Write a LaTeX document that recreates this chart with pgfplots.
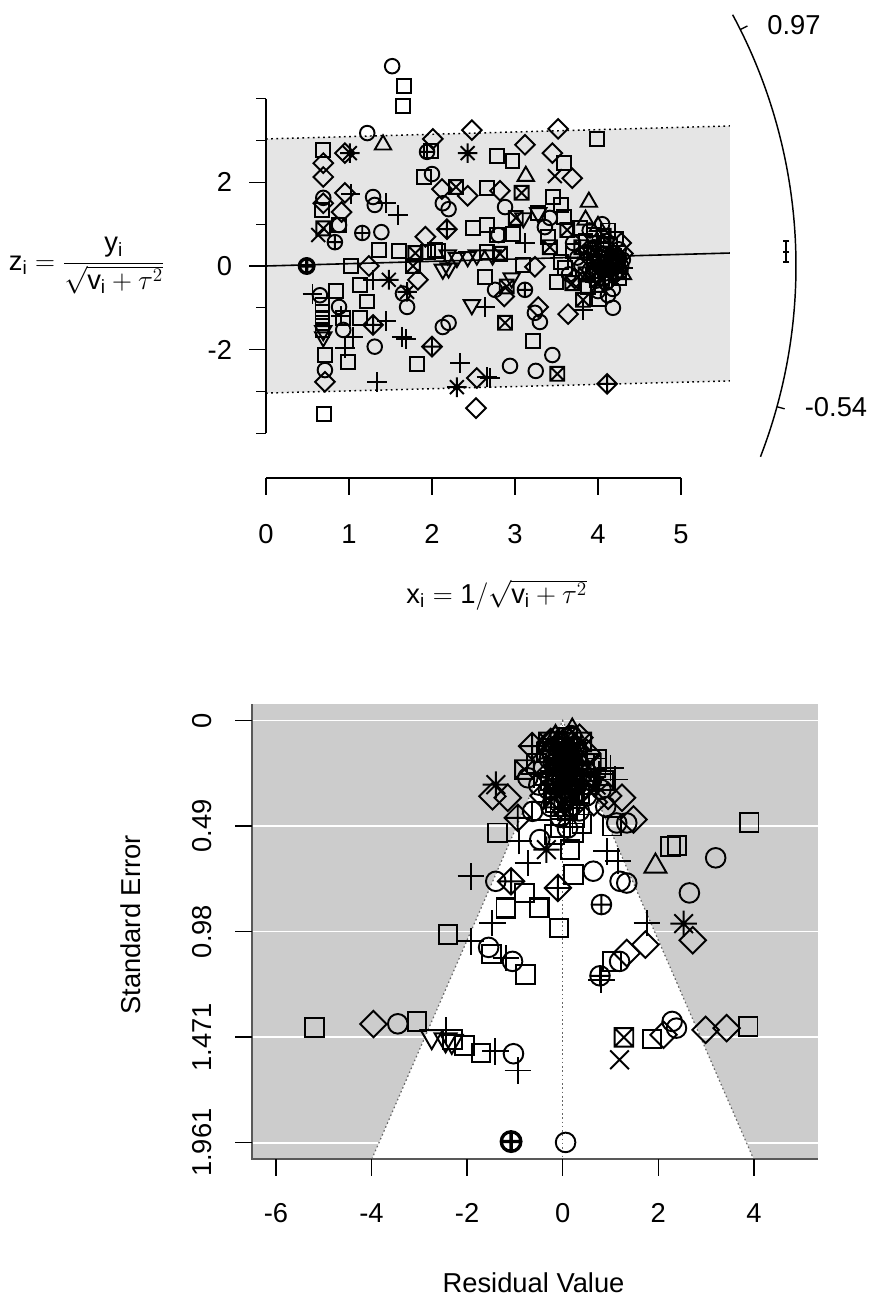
\documentclass[border=0pt]{standalone}
\usepackage{pgfplots}
\pgfplotsset{compat=1.18}
\usepackage{fontspec}
\setmainfont{Liberation Sans}

\pgfdeclareplotmark{circ}{\pgfpathcircle{\pgfpointorigin}{1.05\pgfplotmarksize}\pgfusepathqstroke}
\pgfdeclareplotmark{sq}{\pgfpathrectangle{\pgfqpoint{-\pgfplotmarksize}{-\pgfplotmarksize}}{\pgfqpoint{2\pgfplotmarksize}{2\pgfplotmarksize}}\pgfusepathqstroke}
\pgfdeclareplotmark{dia}{%
 \pgfpathmoveto{\pgfqpoint{0pt}{1.4142\pgfplotmarksize}}\pgfpathlineto{\pgfqpoint{1.4142\pgfplotmarksize}{0pt}}%
 \pgfpathlineto{\pgfqpoint{0pt}{-1.4142\pgfplotmarksize}}\pgfpathlineto{\pgfqpoint{-1.4142\pgfplotmarksize}{0pt}}\pgfpathclose\pgfusepathqstroke}
\pgfdeclareplotmark{dpl}{%
 \pgfpathmoveto{\pgfqpoint{0pt}{1.4142\pgfplotmarksize}}\pgfpathlineto{\pgfqpoint{1.4142\pgfplotmarksize}{0pt}}%
 \pgfpathlineto{\pgfqpoint{0pt}{-1.4142\pgfplotmarksize}}\pgfpathlineto{\pgfqpoint{-1.4142\pgfplotmarksize}{0pt}}\pgfpathclose
 \pgfpathmoveto{\pgfqpoint{0pt}{1.4142\pgfplotmarksize}}\pgfpathlineto{\pgfqpoint{0pt}{-1.4142\pgfplotmarksize}}%
 \pgfpathmoveto{\pgfqpoint{-1.4142\pgfplotmarksize}{0pt}}\pgfpathlineto{\pgfqpoint{1.4142\pgfplotmarksize}{0pt}}\pgfusepathqstroke}
\pgfdeclareplotmark{tup}{\pgfpathmoveto{\pgfqpoint{0pt}{1.357\pgfplotmarksize}}\pgfpathlineto{\pgfqpoint{1.175\pgfplotmarksize}{-0.678\pgfplotmarksize}}\pgfpathlineto{\pgfqpoint{-1.175\pgfplotmarksize}{-0.678\pgfplotmarksize}}\pgfpathclose\pgfusepathqstroke}
\pgfdeclareplotmark{tdn}{\pgfpathmoveto{\pgfqpoint{0pt}{-1.357\pgfplotmarksize}}\pgfpathlineto{\pgfqpoint{1.175\pgfplotmarksize}{0.678\pgfplotmarksize}}\pgfpathlineto{\pgfqpoint{-1.175\pgfplotmarksize}{0.678\pgfplotmarksize}}\pgfpathclose\pgfusepathqstroke}
\pgfdeclareplotmark{pl}{\pgfpathmoveto{\pgfqpoint{-1.4142\pgfplotmarksize}{0pt}}\pgfpathlineto{\pgfqpoint{1.4142\pgfplotmarksize}{0pt}}\pgfpathmoveto{\pgfqpoint{0pt}{-1.4142\pgfplotmarksize}}\pgfpathlineto{\pgfqpoint{0pt}{1.4142\pgfplotmarksize}}\pgfusepathqstroke}
\pgfdeclareplotmark{xx}{\pgfpathmoveto{\pgfqpoint{-\pgfplotmarksize}{-\pgfplotmarksize}}\pgfpathlineto{\pgfqpoint{\pgfplotmarksize}{\pgfplotmarksize}}\pgfpathmoveto{\pgfqpoint{-\pgfplotmarksize}{\pgfplotmarksize}}\pgfpathlineto{\pgfqpoint{\pgfplotmarksize}{-\pgfplotmarksize}}\pgfusepathqstroke}
\pgfdeclareplotmark{st}{\pgfpathmoveto{\pgfqpoint{-1.4142\pgfplotmarksize}{0pt}}\pgfpathlineto{\pgfqpoint{1.4142\pgfplotmarksize}{0pt}}\pgfpathmoveto{\pgfqpoint{0pt}{-1.4142\pgfplotmarksize}}\pgfpathlineto{\pgfqpoint{0pt}{1.4142\pgfplotmarksize}}%
 \pgfpathmoveto{\pgfqpoint{-\pgfplotmarksize}{-\pgfplotmarksize}}\pgfpathlineto{\pgfqpoint{\pgfplotmarksize}{\pgfplotmarksize}}\pgfpathmoveto{\pgfqpoint{-\pgfplotmarksize}{\pgfplotmarksize}}\pgfpathlineto{\pgfqpoint{\pgfplotmarksize}{-\pgfplotmarksize}}\pgfusepathqstroke}
\pgfdeclareplotmark{sqx}{\pgfpathrectangle{\pgfqpoint{-\pgfplotmarksize}{-\pgfplotmarksize}}{\pgfqpoint{2\pgfplotmarksize}{2\pgfplotmarksize}}%
 \pgfpathmoveto{\pgfqpoint{-\pgfplotmarksize}{-\pgfplotmarksize}}\pgfpathlineto{\pgfqpoint{\pgfplotmarksize}{\pgfplotmarksize}}\pgfpathmoveto{\pgfqpoint{-\pgfplotmarksize}{\pgfplotmarksize}}\pgfpathlineto{\pgfqpoint{\pgfplotmarksize}{-\pgfplotmarksize}}\pgfusepathqstroke}
\pgfdeclareplotmark{opl}{\pgfpathcircle{\pgfpointorigin}{1.05\pgfplotmarksize}%
 \pgfpathmoveto{\pgfqpoint{-1.05\pgfplotmarksize}{0pt}}\pgfpathlineto{\pgfqpoint{1.05\pgfplotmarksize}{0pt}}\pgfpathmoveto{\pgfqpoint{0pt}{-1.05\pgfplotmarksize}}\pgfpathlineto{\pgfqpoint{0pt}{1.05\pgfplotmarksize}}\pgfusepathqstroke}

\newcommand\tlf{\fontsize{20.5}{24}\selectfont}
\pgfplotsset{pts/.style={only marks, black, line width=1.45pt, mark options={solid}}}

\begin{document}
\tlf
\begin{tikzpicture}
\path[use as bounding box] (0,0) rectangle (660.75pt,979.5pt);

% ================= TOP: radial plot =================
\begin{axis}[at={(0pt,514.5pt)}, anchor=south west, scale only axis,
  width=660.75pt, height=465pt, xmin=-3.205, xmax=7.41, ymin=-8.469, ymax=6.364,
  hide axis, clip=false, mark size=5.2pt]
\addplot[fill=black!10, draw=none] coordinates {(0,3.04)(5.59,3.35)(5.59,-2.75)(0,-3.04)} -- cycle;
\addplot[black, line width=1.1pt, dash pattern=on 1.3pt off 2.6pt] coordinates {(0,3.04)(5.59,3.35)};
\addplot[black, line width=1.1pt, dash pattern=on 1.3pt off 2.6pt] coordinates {(0,-3.04)(5.59,-2.75)};
\addplot[black, line width=1.2pt] coordinates {(0,0)(5.59,0.31)};

\addplot[pts, mark=circ] coordinates {(1.52,4.78)(1.22,3.18)(0.69,1.63)(1.29,1.65)(1.31,1.46)(0.88,0.98)(1.39,0.81)(0.65,-0.70)(1.65,-0.66)(1.70,-0.98)(0.88,-0.98)(0.93,-1.53)(1.31,-1.93)(0.71,-2.49)(2.00,2.20)(2.13,1.50)(2.20,1.36)(2.76,-0.57)(2.13,-1.46)(2.20,-1.36)(2.88,1.41)(3.42,1.15)(3.36,0.93)(2.80,0.74)(3.24,-1.12)(3.30,-1.34)(3.45,-2.13)(2.94,-2.39)(3.25,-2.51)(4.18,-1.00)
(3.95,0.45)(4.05,0.30)(4.15,0.10)(4.20,-0.20)(4.10,-0.40)(3.90,-0.10)(4.25,0.40)(4.00,-0.60)(4.12,-0.70)(3.75,0.20)(3.80,0.00)(3.65,-0.20)(4.28,0.00)(4.05,1.00)(3.90,0.85)(4.18,-0.55)(3.70,0.55)(4.10,0.60)(4.30,0.15)(3.98,-0.35)
(4.02,0.12)(4.12,0.22)(4.22,0.08)(3.97,-0.02)(4.08,-0.18)(4.27,-0.12)(3.86,0.33)};
\addplot[pts, mark=sq] coordinates {(1.66,4.30)(1.65,3.83)(0.69,2.78)(0.67,1.34)(0.88,0.98)(1.36,0.38)(1.60,0.36)(2.04,0.38)(1.02,0.00)(1.13,-0.45)(0.84,-0.60)(1.22,-0.85)(0.68,-0.93)(0.68,-1.10)(0.68,-1.24)(0.68,-1.36)(0.68,-1.53)(0.93,-1.24)(1.13,-1.24)(0.71,-2.13)(0.99,-2.30)(1.82,-2.35)(0.70,-3.54)(1.99,2.76)(1.90,2.13)(2.49,0.90)(2.64,-0.26)(3.99,3.04)(2.78,2.63)(2.97,2.51)(3.59,2.46)(2.66,1.87)(3.46,1.65)(3.55,1.46)(3.28,1.27)(3.59,1.17)(2.66,0.98)(2.78,0.74)(2.98,0.77)(3.40,0.70)(2.66,0.33)(3.10,0.02)(3.50,-0.38)(4.01,-0.80)(3.22,-1.80)(2.07,0.36)(1.95,0.33)
(3.85,0.60)(4.00,0.20)(4.10,-0.10)(4.20,0.25)(3.95,0.75)(4.15,0.50)(3.70,0.35)(3.60,-0.05)(4.05,-0.30)(3.88,-0.50)(4.25,-0.30)(3.78,0.90)(4.02,0.05)(4.22,0.65)(3.92,0.30)(3.55,0.10)(4.12,0.85)
(4.06,0.40)(4.16,-0.02)(3.94,-0.22)(4.24,0.12)(4.08,0.08)};
\addplot[pts, mark=dia] coordinates {(0.95,2.70)(0.69,2.46)(0.69,2.13)(0.69,1.50)(0.95,1.75)(0.91,1.29)(1.92,0.70)(1.24,0.00)(1.83,-0.33)(0.71,-2.77)(2.01,3.04)(2.12,1.84)(2.43,1.68)(2.48,3.25)(2.54,-2.68)(2.53,-3.40)(3.52,3.28)(3.12,2.90)(3.45,2.70)(3.69,2.10)(2.82,1.80)(3.24,-0.02)(2.87,-0.73)(3.28,-0.98)(3.64,-1.15)
(4.30,0.30)(4.22,-0.15)(3.90,0.20)(4.05,0.45)(4.15,-0.30)(3.72,-0.30)(4.28,0.55)(3.98,-0.15)};
\addplot[pts, mark=tup] coordinates {(1.41,2.90)(3.13,2.15)(3.89,1.53)(4.30,-0.20)(4.00,0.95)(3.85,1.10)};
\addplot[pts, mark=tdn] coordinates {(0.69,-1.55)(0.69,-1.70)(2.13,-0.08)(2.20,-0.05)(2.30,0.20)(2.54,0.26)(2.48,-0.93)(3.28,1.27)(3.10,1.15)(2.19,0.26)(2.43,0.22)(2.73,0.26)(2.96,-0.29)(4.10,0.15)(3.95,0.60)};
\addplot[pts, mark=pl] coordinates {(1.02,1.72)(1.45,1.50)(1.59,1.22)(0.56,-0.67)(1.29,-0.33)(1.45,-1.31)(1.05,-1.70)(0.95,-1.96)(1.64,-1.70)(1.69,-1.75)(1.34,-2.77)(2.34,-2.32)(2.70,-2.68)(2.64,-0.98)(3.12,0.55)(3.82,-1.05)(2.66,-2.65)(0.90,-1.20)(4.30,-0.05)(4.00,0.55)(3.90,-0.30)(4.18,0.35)};
\addplot[pts, mark=xx] coordinates {(0.63,0.74)(3.48,2.15)};
\addplot[pts, mark=st] coordinates {(1.01,2.70)(2.43,2.70)(1.48,-0.33)(1.70,-0.62)(2.30,-2.90)};
\addplot[pts, mark=opl] coordinates {(1.94,2.73)(0.83,0.57)(1.16,0.79)(3.12,-0.57)(4.05,-0.05)(4.25,0.20)};
\addplot[pts, mark=opl, line width=2.5pt] coordinates {(0.49,0.00)};
\addplot[pts, mark=sqx] coordinates {(0.69,0.90)(1.80,0.31)(1.77,0.00)(2.29,1.89)(3.08,1.75)(3.01,1.15)(3.63,0.86)(2.82,0.29)(3.42,0.45)(2.90,-0.49)(3.69,-0.41)(3.82,-0.81)(2.88,-1.36)(3.51,-2.58)(3.95,0.10)(4.10,0.30)(3.80,0.45)(4.00,-0.45)(4.20,0.00)(3.85,-0.20)(4.07,0.72)};
\addplot[pts, mark=dpl] coordinates {(2.18,0.88)(1.29,-1.41)(2.00,-1.93)(4.11,-2.82)(4.15,0.05)};

% error bar near the arc
\addplot[black, line width=0.9pt, mark=-, mark size=2.6pt] coordinates {(6.265,0.096)(6.265,0.335)(6.265,0.598)};

% axes
\draw[line width=1pt] (axis cs:0,-4) -- (axis cs:0,4);
\pgfplotsinvokeforeach{-4,-3,-1,1,3,4}{\draw[line width=1pt] (axis cs:0,#1) -- ++(-7.5pt,0pt);}
\pgfplotsinvokeforeach{-2,0,2}{\draw[line width=1pt] (axis cs:0,#1) -- ++(-12.75pt,0pt);
  \node[anchor=east, inner sep=0pt, font=\tlf] at (axis cs:-0.406,#1) {#1};}
\draw[line width=1pt] (axis cs:0,-5.072) -- (axis cs:5,-5.072);
\pgfplotsinvokeforeach{0,1,2,3,4,5}{\draw[line width=1pt] (axis cs:#1,-5.072) -- ++(0pt,-12.75pt);
  \node[font=\tlf] at (axis cs:#1,-6.41) {#1};}
\node[font=\tlf] at (axis cs:-2.16,0) {$\displaystyle\mathrm{z}_{\mathrm{i}} = \frac{\mathrm{y}_{\mathrm{i}}}{\sqrt{\mathrm{v}_{\mathrm{i}} + \tau^{2}}}$};
\node[font=\tlf] at (axis cs:2.78,-7.87) {$\mathrm{x}_{\mathrm{i}} = \mbox{1}\big/\sqrt{\mathrm{v}_{\mathrm{i}} + \tau^{2}}$};
\end{axis}

% arc scale of the radial plot
\coordinate (C) at (199.5pt,780pt);
\draw[line width=1.1pt] (C) ++(-21.1:397.5pt) arc[start angle=-21.1, end angle=28.3, radius=397.5pt];
\draw[line width=1pt] (C) ++(26.5:397.5pt) -- ++(26.5:6pt);
\draw[line width=1pt] (C) ++(-15.4:397.5pt) -- ++(-15.4:6pt);
\node[font=\tlf] at (595.5pt,960.75pt) {0.97};
\node[font=\tlf] at (627pt,674.25pt) {-0.54};

% ================= BOTTOM: funnel plot =================
\begin{axis}[at={(189pt,110.25pt)}, anchor=south west, scale only axis,
  width=424.5pt, height=341.25pt, xmin=-6.5, xmax=5.341, ymin=-0.0766, ymax=2.037,
  y dir=reverse, hide axis, clip=false, mark size=7pt]
\addplot[fill=black!20, draw=none] coordinates {(-6.5,-0.0766)(5.341,-0.0766)(5.341,2.037)(-6.5,2.037)} -- cycle;
\addplot[white, line width=1.4pt] coordinates {(-6.5,0)(5.341,0)};
\addplot[white, line width=1.4pt] coordinates {(-6.5,0.49)(5.341,0.49)};
\addplot[white, line width=1.4pt] coordinates {(-6.5,0.98)(5.341,0.98)};
\addplot[white, line width=1.4pt] coordinates {(-6.5,1.471)(5.341,1.471)};
\addplot[white, line width=1.4pt] coordinates {(-6.5,1.961)(5.341,1.961)};
\addplot[fill=white, draw=none] coordinates {(0,0)(3.9925,2.037)(-3.9925,2.037)} -- cycle;
\addplot[black!60, line width=0.9pt, dash pattern=on 1.2pt off 2pt] coordinates {(-3.9925,2.037)(0,0)(3.9925,2.037)};
\addplot[black!60, line width=0.9pt, dash pattern=on 1.2pt off 2pt] coordinates {(0,0)(0,2.037)};

\addplot[pts, mark=circ] coordinates {(-3.45,1.409)(-1.03,1.548)(0.06,1.960)(2.29,1.398)(2.38,1.429)(-1.55,1.054)(-1.05,1.119)(1.19,1.119)(-0.73,0.266)(-0.63,0.422)(-0.48,0.553)(-1.40,0.747)(0.64,0.700)(1.20,0.747)(1.34,0.755)(1.13,0.476)(1.34,0.476)(3.20,0.638)(2.65,0.801)
(0.00,0.15)(0.10,0.22)(-0.10,0.28)(0.20,0.18)(-0.20,0.20)(0.05,0.35)(0.30,0.30)(-0.30,0.32)(0.15,0.40)(-0.05,0.45)(0.40,0.25)(-0.40,0.22)(0.50,0.35)(0.25,0.12)(-0.15,0.12)(0.35,0.42)(-0.25,0.40)(0.60,0.28)(0.80,0.32)(0.90,0.40)(-0.50,0.30)(0.10,0.50)
(0.02,0.08)(0.12,0.14)(-0.08,0.16)(0.22,0.26)(-0.18,0.30)(0.06,0.24)(0.32,0.20)(-0.28,0.18)(0.18,0.07)(0.08,0.33)};
\addplot[pts, mark=sq] coordinates {(-5.19,1.426)(-3.05,1.398)(-2.31,1.483)(-2.06,1.509)(-1.71,1.545)(1.87,1.480)(3.88,1.421)(-2.40,0.995)(-1.49,1.085)(-0.78,1.181)(-1.19,0.875)(-0.50,0.871)(-0.08,0.964)(1.03,1.119)(-1.36,0.522)(-0.17,0.530)(0.15,0.600)(0.22,0.522)(-1.19,0.869)(-0.80,0.801)(-0.48,0.869)(0.22,0.716)(2.25,0.584)(2.39,0.581)(1.03,0.491)(0.71,0.181)(3.90,0.473)
(0.05,0.10)(-0.10,0.18)(0.20,0.25)(-0.25,0.28)(0.30,0.15)(0.00,0.30)(0.45,0.20)(-0.35,0.15)(0.15,0.33)(-0.15,0.38)(0.55,0.30)(0.70,0.22)(-0.55,0.20)(0.25,0.45)(-0.05,0.50)(0.40,0.48)(0.85,0.28)(0.10,0.08)(-0.45,0.42)
(0.00,0.13)(0.14,0.20)(-0.12,0.23)(0.26,0.29)(-0.04,0.37)(0.08,0.28)(0.36,0.34)(-0.22,0.13)};
\addplot[pts, mark=dia] coordinates {(-3.96,1.410)(2.11,1.460)(2.99,1.437)(3.43,1.429)(1.34,1.080)(1.73,1.041)(2.72,1.021)(-1.47,0.352)(-1.15,0.359)(1.48,0.460)(1.24,0.359)
(0.00,0.20)(0.15,0.10)(-0.20,0.15)(0.30,0.22)(-0.30,0.25)(0.10,0.30)(0.50,0.15)(-0.10,0.35)(0.65,0.38)(0.20,0.40)(-0.40,0.35)(0.95,0.35)(0.35,0.08)
(0.04,0.12)(-0.06,0.26)(0.18,0.30)(0.12,0.18)(-0.16,0.09)(0.24,0.14)};
\addplot[pts, mark=tup] coordinates {(1.94,0.677)(0.00,0.10)(0.20,0.05)(-0.15,0.08)(0.35,0.18)(0.06,0.18)(-0.08,0.20)};
\addplot[pts, mark=tdn] coordinates {(-2.74,1.468)(-2.45,1.483)(-2.32,1.490)(0.10,0.20)(-0.05,0.30)(0.25,0.22)(0.03,0.26)(0.16,0.36)};
\addplot[pts, mark=pl] coordinates {(-2.45,1.437)(-1.41,1.537)(-0.94,1.626)(-1.92,1.026)(-1.19,1.103)(-1.47,0.941)(0.81,1.204)(1.76,0.941)(-0.91,0.561)(-0.73,0.662)(-1.92,0.724)(0.92,0.608)(1.16,0.654)(1.09,0.274)
(0.10,0.12)(-0.05,0.22)(0.20,0.32)(0.45,0.28)(-0.35,0.30)(0.75,0.25)(1.00,0.22)(-0.60,0.25)(0.00,0.18)(0.14,0.26)(-0.12,0.32)};
\addplot[pts, mark=xx] coordinates {(1.19,1.576)};
\addplot[pts, mark=st] coordinates {(2.53,0.944)(-1.40,0.298)(-0.34,0.600)(0.00,0.25)(0.70,0.30)(0.10,0.16)};
\addplot[pts, mark=opl] coordinates {(0.81,0.855)(0.78,1.186)(0.15,0.16)(-0.10,0.12)(0.30,0.28)(0.05,0.30)};
\addplot[pts, mark=opl, line width=2.5pt] coordinates {(-1.08,1.956)};
\addplot[pts, mark=sqx] coordinates {(1.28,1.472)(-0.80,0.228)(0.05,0.25)(-0.15,0.25)(0.25,0.35)(0.40,0.10)(-0.30,0.10)(0.10,0.42)(0.60,0.20)(0.02,0.40)(-0.20,0.36)};
\addplot[pts, mark=dpl] coordinates {(-0.64,0.119)(-0.94,0.452)(-1.08,0.747)(-0.10,0.778)(0.05,0.18)(-0.25,0.10)(0.40,0.32)(0.20,0.20)};

% axes
\draw[line width=1pt, black!65] (axis cs:-6.5,-0.0766) -- (axis cs:-6.5,2.037) -- (axis cs:5.341,2.037);
\pgfplotsinvokeforeach{0,0.49,0.98,1.471,1.961}{\draw[line width=1pt] (axis cs:-6.5,#1) -- ++(-12.75pt,0pt);
  \node[rotate=90, font=\tlf] at (axis cs:-7.546,#1) {#1};}
\pgfplotsinvokeforeach{-6,-4,-2,0,2,4}{\draw[line width=1pt] (axis cs:#1,2.037) -- ++(0pt,-12.75pt);
  \node[font=\tlf] at (axis cs:#1,2.288) {#1};}
\node[rotate=90, font=\tlf] at (axis cs:-9.03,0.95) {Standard Error};
\node[font=\tlf] at (axis cs:-0.61,2.614) {Residual Value};
\end{axis}
\end{tikzpicture}
\end{document}
